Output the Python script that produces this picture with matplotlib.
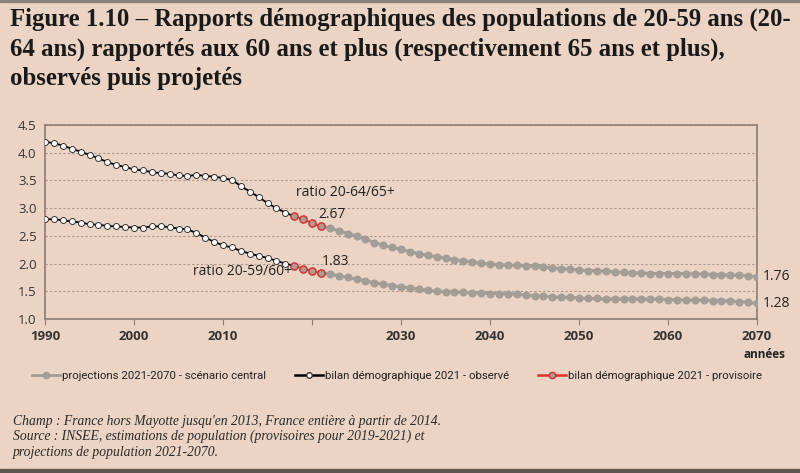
import matplotlib
matplotlib.use("Agg")
import matplotlib.pyplot as plt
from matplotlib.lines import Line2D
import matplotlib.patches as mpatches

# ---------------- data ----------------
years_obs = list(range(1990, 2019))
r64_obs = [4.20, 4.17, 4.13, 4.07, 4.02, 3.96, 3.90, 3.83, 3.78, 3.74,
           3.70, 3.68, 3.65, 3.63, 3.62, 3.59, 3.58, 3.60, 3.58, 3.57,
           3.54, 3.51, 3.40, 3.30, 3.20, 3.09, 3.00, 2.92, 2.85]
r59_obs = [2.80, 2.80, 2.78, 2.76, 2.74, 2.71, 2.70, 2.68, 2.67, 2.66,
           2.65, 2.65, 2.67, 2.67, 2.66, 2.63, 2.62, 2.55, 2.47, 2.39,
           2.33, 2.29, 2.23, 2.18, 2.14, 2.10, 2.05, 2.00, 1.96]

years_prov = [2018, 2019, 2020, 2021]
r64_prov = [2.85, 2.80, 2.73, 2.67]
r59_prov = [1.96, 1.91, 1.87, 1.83]

years_proj = list(range(2021, 2071))
r64_proj = [2.67, 2.64, 2.59, 2.54, 2.50, 2.44, 2.38, 2.33, 2.29, 2.26,
            2.21, 2.18, 2.15, 2.12, 2.10, 2.07, 2.05, 2.03, 2.01, 1.99,
            1.98, 1.97, 1.97, 1.96, 1.95, 1.94, 1.92, 1.91, 1.90, 1.88,
            1.87, 1.87, 1.86, 1.85, 1.84, 1.83, 1.83, 1.82, 1.82, 1.82,
            1.82, 1.82, 1.81, 1.81, 1.80, 1.80, 1.79, 1.79, 1.78, 1.76]
r59_proj = [1.83, 1.81, 1.78, 1.75, 1.72, 1.69, 1.65, 1.63, 1.60, 1.58,
            1.56, 1.54, 1.52, 1.50, 1.49, 1.49, 1.48, 1.47, 1.47, 1.46,
            1.46, 1.45, 1.45, 1.43, 1.42, 1.41, 1.40, 1.39, 1.39, 1.38,
            1.37, 1.37, 1.36, 1.36, 1.36, 1.36, 1.36, 1.36, 1.36, 1.35,
            1.35, 1.34, 1.34, 1.34, 1.33, 1.33, 1.32, 1.31, 1.30, 1.28]

x_ticks = [1990, 2000, 2010, 2020, 2030, 2040, 2050, 2060, 2070]
x_ticklabels = ["1990", "2000", "2010", "", "2030", "2040", "2050", "2060", "2070"]
y_ticks = [1.0, 1.5, 2.0, 2.5, 3.0, 3.5, 4.0, 4.5]

title = ("Figure 1.10 – Rapports démographiques des populations de 20-59 ans (20-\n"
         "64 ans) rapportés aux 60 ans et plus (respectivement 65 ans et plus),\n"
         "observés puis projetés")
legend_labels = ["projections 2021-2070 - scénario central",
                 "bilan démographique 2021 - observé",
                 "bilan démographique 2021 - provisoire"]
footnote = ["Champ : France hors Mayotte jusqu'en 2013, France entière à partir de 2014.",
            "Source : INSEE, estimations de population (provisoires pour 2019-2021) et",
            "projections de population 2021-2070."]

# ---------------- style ----------------
BG = "#ecd4c4"
GRAY = "#a39d98"
FRAME = "#8c7d73"
sans = ["Open Sans", "DejaVu Sans"]
narrow = ["Roboto", "DejaVu Sans"]
serif = ["Liberation Serif", "DejaVu Serif"]

fig = plt.figure(figsize=(8, 4.73), dpi=100, facecolor=BG)
ax = fig.add_axes([45/800, 1-319/473, (757-45)/800, (319-125)/473])
ax.set_facecolor(BG)

# projections
for yv in (r64_proj, r59_proj):
    ax.plot(years_proj, yv, color=GRAY, lw=2.2, marker="o", ms=4.8,
            mfc=GRAY, mec=GRAY, zorder=3)
# observed
for yv in (r64_obs, r59_obs):
    ax.plot(years_obs, yv, color="black", lw=1.3, marker="o", ms=4.3,
            mfc="white", mec="#333333", mew=0.7, zorder=4)
# provisional
for yv in (r64_prov, r59_prov):
    ax.plot(years_prov, yv, color="#e03030", lw=1.3, marker="o", ms=5.2,
            mfc="#b09a92", mec="#d03030", mew=1.0, zorder=5)

ax.set_xlim(1990, 2070)
ax.set_ylim(1.0, 4.5)
ax.set_yticks(y_ticks)
ax.set_yticklabels([f"{v:.1f}" for v in y_ticks])
ax.set_xticks(x_ticks)
ax.set_xticklabels(x_ticklabels)
ax.grid(axis="y", color="#a8978c", ls=(0, (2, 2)), lw=0.8)
ax.set_axisbelow(True)
for s in ax.spines.values():
    s.set_color(FRAME)
    s.set_linewidth(1.2)
ax.tick_params(axis="x", direction="out", length=4, color=FRAME, pad=4)
ax.tick_params(axis="y", length=0, pad=6)
for lab in ax.get_xticklabels():
    lab.set_fontfamily(sans); lab.set_fontsize(9.5); lab.set_fontweight("bold")
    lab.set_color("#333333")
for lab in ax.get_yticklabels():
    lab.set_fontfamily(sans); lab.set_fontsize(9.5); lab.set_color("#333333")

# annotations
tk = dict(fontfamily=sans, fontsize=10, color="#222222", va="center", ha="left")
ax.text(2018.2, 3.29, "ratio 20-64/65+", **tk)
ax.text(2020.7, 2.89, f"{r64_prov[-1]:.2f}", **tk)
ax.text(2006.6, 1.85, "ratio 20-59/60+", **tk)
ax.text(2021.1, 2.03, f"{r59_prov[-1]:.2f}", **tk)
ax.text(2070.6, r64_proj[-1], f"{r64_proj[-1]:.2f}", **tk)
ax.text(2070.6, r59_proj[-1], f"{r59_proj[-1]:.2f}", **tk)

fig.text(785/800, 1-354/473, "années", fontfamily=sans, fontsize=8.5,
         fontweight="bold", ha="right", va="center", color="#222222")

# title
fig.text(10/800, 1-8/473, title, fontfamily=serif, fontweight="bold",
         fontsize=17.8, va="top", ha="left", color="#1a1a1a", linespacing=1.34)

# legend (three entries placed along one row)
handles = [
    Line2D([], [], color=GRAY, lw=2, marker="o", ms=4.5, mfc=GRAY, mec=GRAY),
    Line2D([], [], color="black", lw=1.8, marker="o", ms=4, mfc="white", mec="#333333"),
    Line2D([], [], color="#e03030", lw=1.8, marker="o", ms=4.5, mfc="#b09a92", mec="#d03030"),
]
starts = [32, 295, 538]
for h, lab, xs in zip(handles, legend_labels, starts):
    lg = fig.legend([h], [lab], loc="center left",
                    bbox_to_anchor=(xs/800, 1-376/473), frameon=False,
                    handlelength=2.5, handletextpad=0.15, borderpad=0,
                    borderaxespad=0, prop=dict(family=narrow, size=8.2))
    for t in lg.get_texts():
        t.set_color("#222222")

# footnote
for i, line in enumerate(footnote):
    fig.text(13/800, 1-(421+15.5*i)/473, line, fontfamily=serif, style="italic",
             fontsize=9.8, va="center", ha="left", color="#2a2a2a")

# screenshot edges
fig.patches.append(mpatches.Rectangle((0, 1-2/473), 1, 2/473, transform=fig.transFigure,
                                      color="#8a8480", zorder=0))
fig.patches.append(mpatches.Rectangle((0, 0), 1, 4/473, transform=fig.transFigure,
                                      color="#5e5650", zorder=0))

fig.savefig("out.png", dpi=100, facecolor=BG)
